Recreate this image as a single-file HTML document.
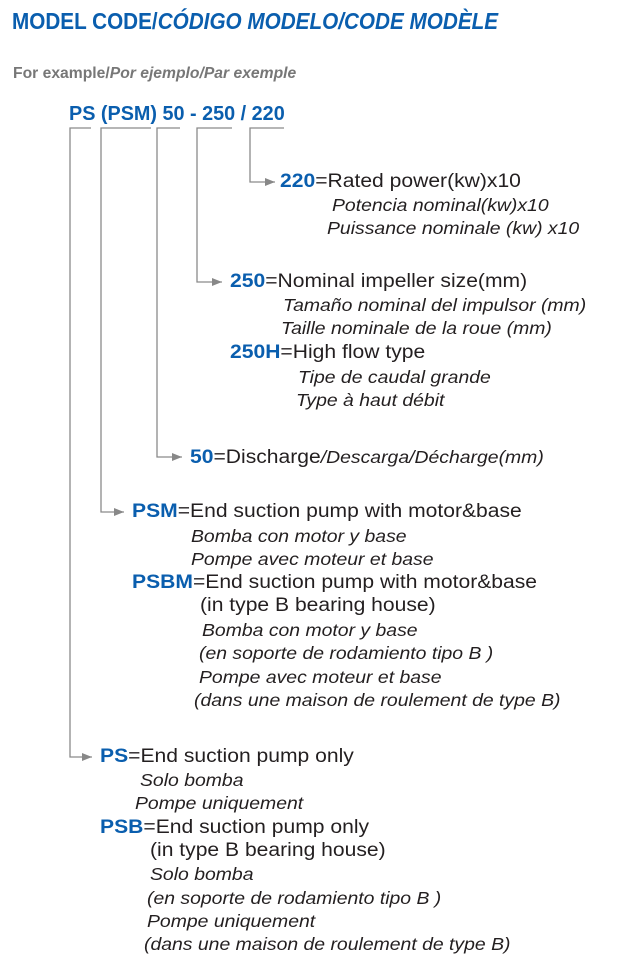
<!DOCTYPE html>
<html><head><meta charset="utf-8"><style>
body{margin:0;width:644px;height:970px;background:#fff;position:relative;font-family:"Liberation Sans",sans-serif;overflow:hidden}
.t{position:absolute;white-space:nowrap;font-size:19px;line-height:22px;color:#231f20;transform-origin:left center;transform:scaleX(1.11)}
.b{color:#0a5eae;font-weight:bold}
.t i{font-size:0.92em}
i{font-style:italic}
</style></head><body>
<div style="position:absolute;left:12px;top:8px;font-size:23px;font-weight:bold;color:#0a5eae;white-space:nowrap;transform-origin:left top;transform:scaleX(0.9)">MODEL CODE/<i>CÓDIGO MODELO/CODE MODÈLE</i></div>
<div style="position:absolute;left:13px;top:65px;font-size:16px;font-weight:bold;color:#777;white-space:nowrap;transform-origin:left top;transform:scaleX(0.98)">For example/<i>Por ejemplo/Par exemple</i></div>
<div style="position:absolute;left:69px;top:103px;font-size:20px;font-weight:bold;color:#0a5eae;white-space:nowrap;transform-origin:left top;transform:scaleX(0.99)">PS (PSM) 50 - 250 / 220</div>

<svg width="644" height="970" style="position:absolute;left:0;top:0">
<defs><marker id="a" markerWidth="10" markerHeight="8" refX="10" refY="4" orient="auto" markerUnits="userSpaceOnUse"><path d="M0,0 L10,4 L0,8z" fill="#888"/></marker></defs>
<g stroke="#8a8a8a" stroke-width="1.3" fill="none">
<path d="M91,128 H70 V757 H92" marker-end="url(#a)"/>
<path d="M151,128 H101 V512 H124" marker-end="url(#a)"/>
<path d="M180,128 H157 V457 H182" marker-end="url(#a)"/>
<path d="M232,128 H197 V282 H222" marker-end="url(#a)"/>
<path d="M284,128 H250 V182 H275" marker-end="url(#a)"/>
</g></svg>

<div class="t" style="left:280px;top:171px"><span class="b">220</span>=Rated power(kw)x10</div>
<div class="t" style="left:332px;top:194px"><i>Potencia nominal(kw)x10</i></div>
<div class="t" style="left:327px;top:217px"><i>Puissance nominale (kw) x10</i></div>

<div class="t" style="left:230px;top:271px"><span class="b">250</span>=Nominal impeller size(mm)</div>
<div class="t" style="left:283px;top:294px"><i>Tamaño nominal del impulsor (mm)</i></div>
<div class="t" style="left:281px;top:317px"><i>Taille nominale de la roue (mm)</i></div>
<div class="t" style="left:230px;top:342px"><span class="b">250H</span>=High flow type</div>
<div class="t" style="left:298px;top:366px"><i>Tipe de caudal grande</i></div>
<div class="t" style="left:296px;top:389px"><i>Type à haut débit</i></div>

<div class="t" style="left:190px;top:446px"><span class="b">50</span>=Discharge<i>/Descarga/Décharge(mm)</i></div>

<div class="t" style="left:132px;top:501px"><span class="b">PSM</span>=End suction pump with motor&amp;base</div>
<div class="t" style="left:191px;top:525px"><i>Bomba con motor y base</i></div>
<div class="t" style="left:191px;top:548px"><i>Pompe avec moteur et base</i></div>
<div class="t" style="left:132px;top:572px"><span class="b">PSBM</span>=End suction pump with motor&amp;base</div>
<div class="t" style="left:200px;top:595px">(in type B bearing house)</div>
<div class="t" style="left:202px;top:619px"><i>Bomba con motor y base</i></div>
<div class="t" style="left:199px;top:642px"><i>(en soporte de rodamiento tipo B )</i></div>
<div class="t" style="left:199px;top:666px"><i>Pompe avec moteur et base</i></div>
<div class="t" style="left:194px;top:689px"><i>(dans une maison de roulement de type B)</i></div>

<div class="t" style="left:100px;top:746px"><span class="b">PS</span>=End suction pump only</div>
<div class="t" style="left:140px;top:769px"><i>Solo bomba</i></div>
<div class="t" style="left:135px;top:792px"><i>Pompe uniquement</i></div>
<div class="t" style="left:100px;top:817px"><span class="b">PSB</span>=End suction pump only</div>
<div class="t" style="left:150px;top:840px">(in type B bearing house)</div>
<div class="t" style="left:150px;top:863px"><i>Solo bomba</i></div>
<div class="t" style="left:147px;top:887px"><i>(en soporte de rodamiento tipo B )</i></div>
<div class="t" style="left:147px;top:910px"><i>Pompe uniquement</i></div>
<div class="t" style="left:144px;top:933px"><i>(dans une maison de roulement de type B)</i></div>
</body></html>
